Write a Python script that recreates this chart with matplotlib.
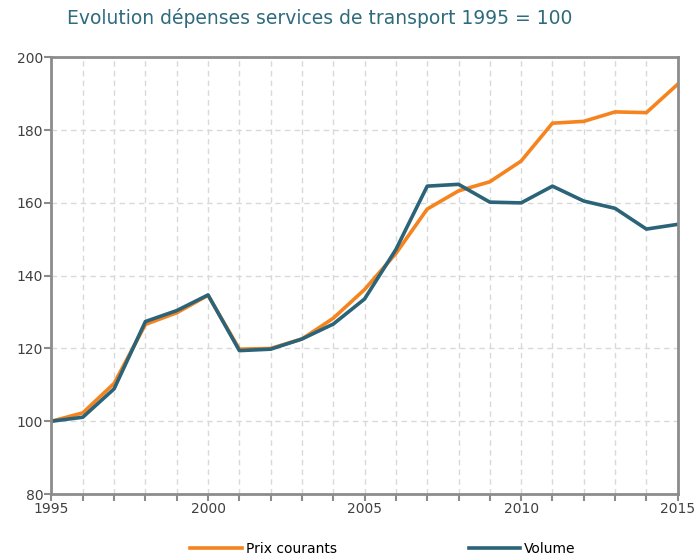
import matplotlib.pyplot as plt

years = list(range(1995, 2016))
prix_courants = [100, 102.3, 110.4, 126.6, 129.8, 134.6, 119.8, 120.0, 122.6, 128.3,
                 136.2, 146.1, 158.3, 163.3, 165.8, 171.5, 181.9, 182.4, 185.0, 184.8, 192.6]
volume = [100, 101.1, 108.9, 127.4, 130.4, 134.7, 119.4, 119.8, 122.6, 126.7,
          133.6, 147.2, 164.6, 165.1, 160.2, 160.0, 164.6, 160.5, 158.5, 152.8, 154.1]

orange = "#F5841F"
bleu = "#2B6378"
gris = "#8C8C8C"

plt.rcParams["font.family"] = "DejaVu Sans"

fig = plt.figure(figsize=(6.94, 5.57), dpi=100)
ax = fig.add_axes([0.0742, 0.1131, 0.9023, 0.784])

ax.plot(years, prix_courants, color=orange, lw=2.6, label="Prix courants")
ax.plot(years, volume, color=bleu, lw=2.6, label="Volume")

ax.set_xlim(1995, 2015)
ax.set_ylim(80, 200)
ax.set_xticks(range(1995, 2016, 5))
ax.set_xticks(years, minor=True)
ax.set_yticks(range(80, 201, 20))
ax.grid(True, which="both", axis="x", ls=(0, (4, 3)), color="#D9D9D9", lw=1)
ax.grid(True, axis="y", ls=(0, (4, 3)), color="#D9D9D9", lw=1)
ax.set_axisbelow(True)

for side in ["left", "bottom", "top", "right"]:
    ax.spines[side].set_color(gris)
    ax.spines[side].set_linewidth(2)
ax.tick_params(which="both", color=gris, width=1.5, length=5, labelsize=10,
               labelcolor="#404040", pad=1)

fig.text(0.46, 0.967, "Evolution dépenses services de transport 1995 = 100",
         color="#2E6B7D", fontsize=13.5, ha="center", va="center")

fig.legend(loc="center", bbox_to_anchor=(0.552, 0.014), ncol=2, frameon=False,
           handlelength=3.7, columnspacing=9.5, fontsize=10, handletextpad=0.3)

plt.savefig("out.png", dpi=100)
